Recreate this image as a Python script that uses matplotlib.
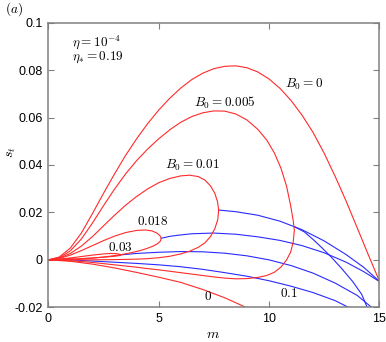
import matplotlib
matplotlib.use('Agg')
import matplotlib.pyplot as plt

plt.rcParams['mathtext.fontset'] = 'cm'
plt.rcParams['axes.unicode_minus'] = False
plt.rcParams['font.family'] = ['Liberation Sans', 'DejaVu Sans']

# red branches (B0 = 0, 0.005, 0.01, 0.018, 0.03)
m_b0_0 = [0, 0.5, 1.0, 1.5, 2.0, 2.5, 3.0, 3.5, 4.0, 4.5, 5.0, 5.5, 6.0, 6.5, 7.0, 7.5,
          8.0, 8.5, 9.0, 9.5, 10.0, 10.5, 11.0, 11.5, 12.0, 12.5, 13.0, 13.5, 14.0,
          14.5, 15.0]
s_b0_0 = [0, 0.0012, 0.0050, 0.0113, 0.0195, 0.0280, 0.0362, 0.0440, 0.0510, 0.0574,
          0.0631, 0.0681, 0.0724, 0.0760, 0.0787, 0.0806, 0.0816, 0.0818, 0.0810,
          0.0792, 0.0763, 0.0723, 0.0672, 0.0610, 0.0537, 0.0450, 0.0352, 0.0247,
          0.0135, 0.0022, -0.0088]

m_b0_0_low = [0, 1, 2, 3, 4, 5, 6, 7, 8, 8.95]
s_b0_0_low = [0, -0.0006, -0.0018, -0.0034, -0.0053, -0.0073, -0.0095, -0.0125, -0.0160, -0.0200]

m_b0_005 = [0, 0.5, 1.0, 1.5, 2.0, 2.5, 3.0, 3.5, 4.0, 4.5, 5.0, 5.5, 6.0, 6.5, 7.0, 7.5,
            8.0, 8.5, 9.0, 9.5, 9.9, 10.25, 10.55, 10.8, 10.98, 11.1, 11.15, 11.1,
            10.98, 10.8, 10.55, 10.25, 9.9, 9.5, 9.0, 8.5, 8.0, 7.5, 7.0, 6.5, 6.0,
            5.5, 5.0, 4.5, 4.0, 3.5, 3.0, 2.5, 2.0, 1.5, 1.0, 0.5, 0]
s_b0_005 = [0, 0.0009, 0.0038, 0.0088, 0.0155, 0.0228, 0.0298, 0.0362, 0.0418, 0.0467,
            0.0510, 0.0548, 0.0580, 0.0604, 0.0620, 0.0628, 0.0627, 0.0615, 0.0590,
            0.0550, 0.0505, 0.0450, 0.0385, 0.0310, 0.0230, 0.0165, 0.0125, 0.0075,
            0.0032, 0.0000, -0.0030, -0.0052, -0.0066, -0.0074, -0.0079, -0.0080,
            -0.0077, -0.0072, -0.0066, -0.0060, -0.0054, -0.0048, -0.0042, -0.0037,
            -0.0031, -0.0026, -0.0021, -0.0016, -0.0011, -0.0007, -0.0004, -0.0001, 0]

m_b0_01 = [0, 0.5, 1.0, 1.5, 2.0, 2.5, 3.0, 3.5, 4.0, 4.5, 5.0, 5.5, 6.0, 6.4, 6.8, 7.1,
           7.35, 7.55, 7.67, 7.72, 7.68, 7.55, 7.35, 7.1, 6.8, 6.42, 6.0, 5.5, 5.0,
           4.5, 4.0, 3.0, 2.0, 1.0, 0]
s_b0_01 = [0, 0.0007, 0.0027, 0.0058, 0.0098, 0.0143, 0.0188, 0.0230, 0.0267, 0.0299,
           0.0325, 0.0343, 0.0354, 0.0357, 0.0351, 0.0336, 0.0312, 0.0280, 0.0245,
           0.0210, 0.0170, 0.0132, 0.0098, 0.0072, 0.0053, 0.0037, 0.0025, 0.0015,
           0.0009, 0.0005, 0.0003, 0.0001, 0, 0, 0]

m_b0_018 = [0, 0.5, 1.0, 1.5, 2.0, 2.5, 3.0, 3.5, 4.0, 4.4, 4.7, 4.92, 5.06, 5.12, 5.08,
            4.95, 4.75, 4.5, 4.2, 3.8, 3.3, 2.7, 2.0, 1.2, 0]
s_b0_018 = [0, 0.0006, 0.0020, 0.0039, 0.0060, 0.0081, 0.0100, 0.0115, 0.0124, 0.0126,
            0.0122, 0.0113, 0.0102, 0.0091, 0.0079, 0.0068, 0.0058, 0.0049, 0.0040,
            0.0031, 0.0022, 0.0014, 0.0007, 0.0002, 0]

m_b0_03 = [0, 0.5, 1.0, 1.5, 2.0, 2.5, 2.85, 3.1, 3.25, 3.3, 3.22, 3.0, 2.5, 2.0, 1.4, 0.7, 0]
s_b0_03 = [0, 0.0003, 0.0008, 0.0014, 0.0020, 0.0025, 0.0027, 0.0026, 0.0023, 0.0021,
           0.0018, 0.0015, 0.0011, 0.0008, 0.0005, 0.0002, 0]

# blue branches
m_blue_01 = [0.98, 2, 3, 4, 5, 6, 7, 8, 9, 10, 11, 12, 13, 13.6]
s_blue_01 = [0, -0.0005, -0.0010, -0.0015, -0.0021, -0.0029, -0.0040, -0.0054, -0.0069,
             -0.0088, -0.0111, -0.0138, -0.0172, -0.0200]

m_blue_03 = [3.3, 4, 5, 6, 7, 8, 9, 10, 11, 12, 13, 14, 14.65]
s_blue_03 = [0.0021, 0.0027, 0.0032, 0.0035, 0.0034, 0.0028, 0.0017, 0.0000, -0.0024,
             -0.0056, -0.0098, -0.0150, -0.0200]

m_blue_018 = [5.12, 5.5, 5.9, 6.5, 7.5, 8.5, 9.5, 10.5, 11.5, 12.5, 13.5, 14.3, 15]
s_blue_018 = [0.0091, 0.0099, 0.0104, 0.0110, 0.0113, 0.0108, 0.0097, 0.0082, 0.0060,
              0.0030, -0.0010, -0.0050, -0.0091]

m_blue_01b = [7.72, 8.5, 9.5, 10.5, 11.5, 12.5, 13.5, 14.3, 15]
s_blue_01b = [0.0210, 0.0203, 0.0188, 0.0163, 0.0127, 0.0080, 0.0022, -0.0032, -0.0090]

m_blue_005 = [11.15, 11.6, 12.0, 12.4, 12.83, 13.3, 13.8, 14.2, 14.45]
s_blue_005 = [0.0140, 0.0118, 0.0086, 0.0051, 0.0011, -0.0037, -0.0092, -0.0145, -0.0200]

red_curves = [(m_b0_0, s_b0_0), (m_b0_0_low, s_b0_0_low), (m_b0_005, s_b0_005),
              (m_b0_01, s_b0_01), (m_b0_018, s_b0_018), (m_b0_03, s_b0_03)]
blue_curves = [(m_blue_01, s_blue_01), (m_blue_03, s_blue_03), (m_blue_018, s_blue_018),
               (m_blue_01b, s_blue_01b), (m_blue_005, s_blue_005)]

xticks = [0, 5, 10, 15]
yticks = [-0.02, 0, 0.02, 0.04, 0.06, 0.08, 0.1]
ytick_labels = ['-0.02', '0', '0.02', '0.04', '0.06', '0.08', '0.1']

fig = plt.figure(figsize=(3.86, 3.42), dpi=100)
ax = fig.add_axes([0.1251, 0.1015, 0.8575, 0.8322])

for m, s in blue_curves:
    ax.plot(m, s, color='#2a2aff', lw=0.8)
for m, s in red_curves:
    ax.plot(m, s, color='#ff2a2a', lw=0.8)

ax.set_xlim(0, 15)
ax.set_ylim(-0.02, 0.1)
ax.set_xticks(xticks)
ax.set_xticklabels([str(t) for t in xticks])
ax.set_yticks(yticks)
ax.set_yticklabels(ytick_labels)
ax.tick_params(direction='in', top=True, right=True, length=4, width=0.8,
               color='#808080', labelsize=9, pad=4)
for sp in ax.spines.values():
    sp.set_color('#808080')
    sp.set_linewidth(1.1)

# axis labels placed where the reference has them
ax.set_xlabel('$m$', fontsize=10)
ax.xaxis.set_label_coords(0.4976, -0.068)
ax.set_ylabel('$s_t$', fontsize=10)
ax.yaxis.set_label_coords(-0.093, 0.546)

fs = 9.5
ax.text(11.6, 0.0738, '$B_0 = 0$', fontsize=fs, ha='center', va='center')
ax.text(8.0, 0.0662, '$B_0 = 0.005$', fontsize=fs, ha='center', va='center')
ax.text(6.53, 0.0400, '$B_0 = 0.01$', fontsize=fs, ha='center', va='center')
ax.text(4.72, 0.0160, '$0.018$', fontsize=fs, ha='center', va='center')
ax.text(3.25, 0.0051, '$0.03$', fontsize=fs, ha='center', va='center')
ax.text(7.25, -0.0156, '$0$', fontsize=fs, ha='center', va='center')
ax.text(10.9, -0.0143, '$0.1$', fontsize=fs, ha='center', va='center')
ax.text(1.08, 0.0919, r'$\eta = 10^{-4}$', fontsize=fs, ha='left', va='center')
ax.text(1.08, 0.0852, r'$\eta_{*} = 0.19$', fontsize=fs, ha='left', va='center')

fig.text(0.012, 0.972, '$(a)$', fontsize=9.5, ha='left', va='center')

fig.savefig('out.png', dpi=100)
